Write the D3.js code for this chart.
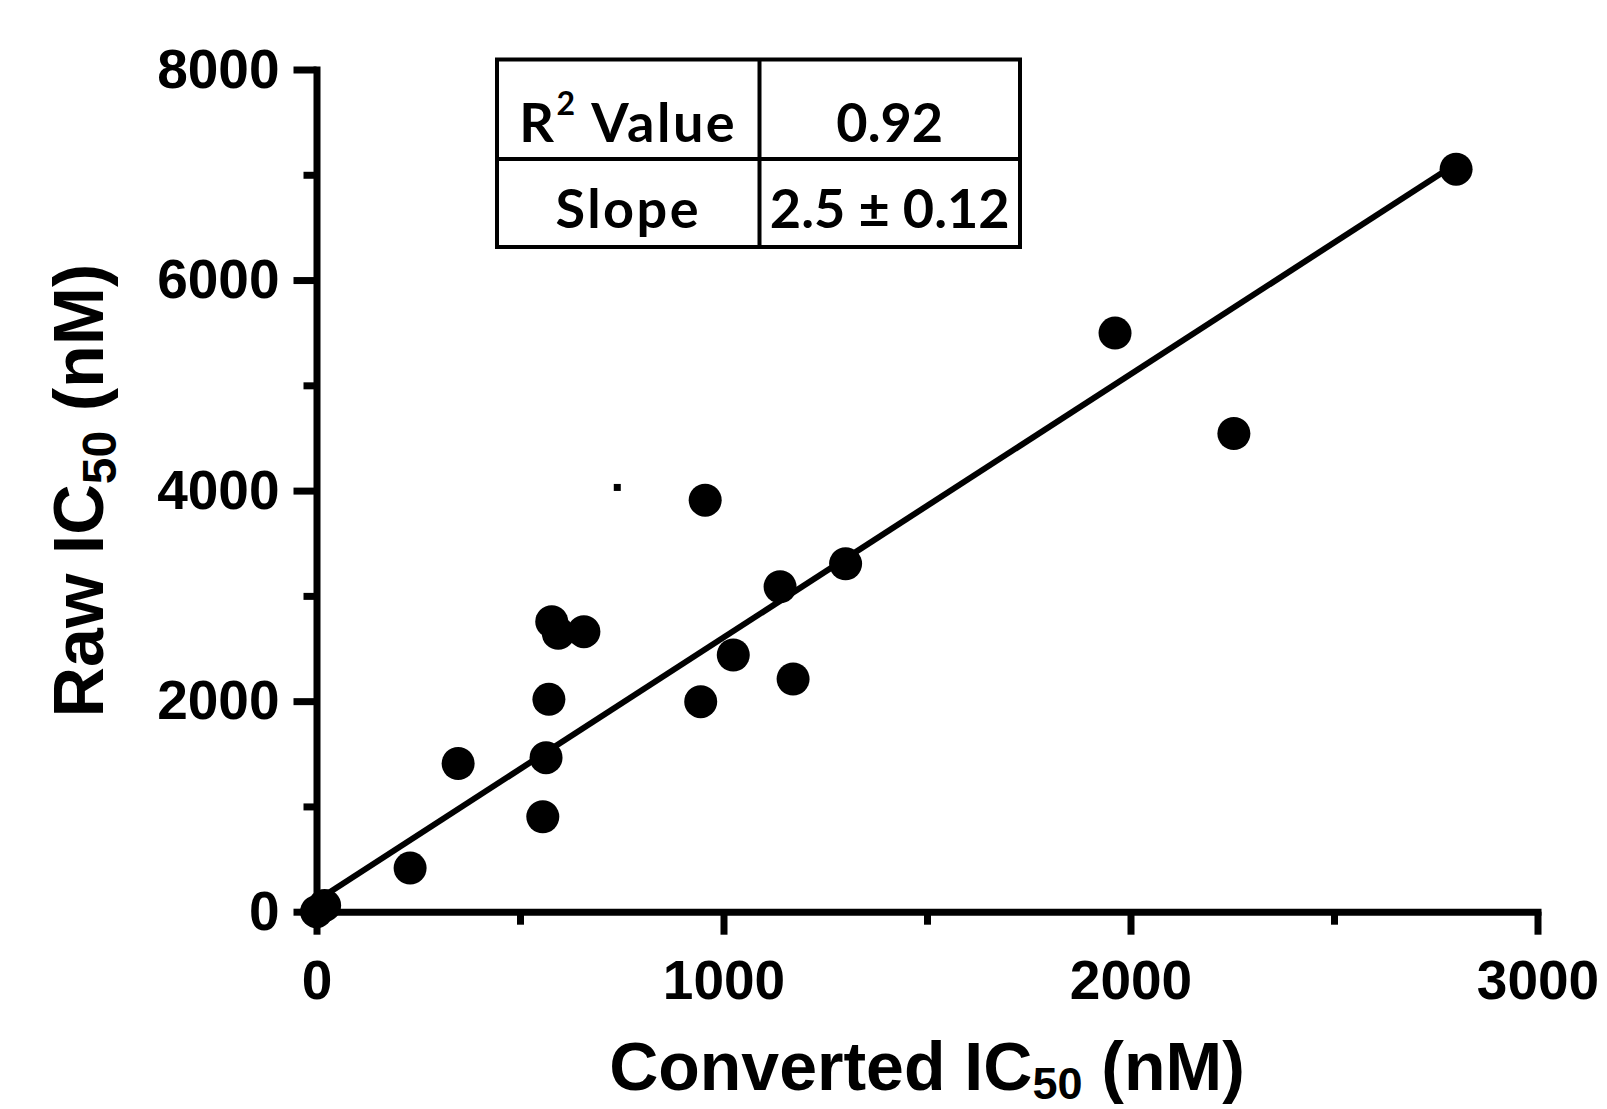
<!DOCTYPE html>
<html>
<head>
<meta charset="utf-8">
<script src="https://cdnjs.cloudflare.com/ajax/libs/d3/7.8.5/d3.min.js"></script>
<style>
body { margin: 0; background: #fff; }
.axis path, .axis line { stroke: #000; stroke-width: 7; }
.axis path { stroke-linecap: square; }
.axis text { font-family: "Liberation Sans", Arial, sans-serif; font-weight: bold; font-size: 55px; fill: #000; }
.title { font-family: "Liberation Sans", Arial, sans-serif; font-weight: bold; font-size: 68px; fill: #000; }
.cell text { font-family: Lato, "Open Sans", sans-serif; font-weight: bold; font-size: 54px; fill: #000; }
.cell text.label { letter-spacing: 2.5px; }
</style>
</head>
<body>
<div class="graph"></div>
<script>
// data
var converted = [0, 20, 230, 348, 556, 564, 571, 578, 594, 657, 944, 955, 1024, 1139, 1171, 1300, 1962, 2254, 2800];
var raw       = [0, 60, 414, 1408, 902, 1463, 2017, 2755, 2644, 2660, 1995, 3909, 2438, 3087, 2210, 3305, 5496, 4542, 7053];
var strayX = [739], strayY = [4030];

// linear fit
var fitSlope = 2.5, fitIntercept = 105, fitRange = [0, 2800];

var xTicks = [0, 1000, 2000, 3000], xMinor = [500, 1500, 2500];
var yTicks = [0, 2000, 4000, 6000, 8000], yMinor = [1000, 3000, 5000, 7000];

// table contents: [label, superscript, rest] and value
var tableLabels = [["R", "2", " Value"], ["Slope", "", ""]];
var tableValues = ["0.92", "2.5 \u00b1 0.12"];

// set the dimensions and margins of the graph
var margin = {top: 69.5, right: 69.5, bottom: 197.3, left: 316.5},
    width = 1607 - margin.left - margin.right,
    height = 1109 - margin.top - margin.bottom;

var x = d3.scaleLinear().domain([0, 3000]).range([0, width]);
var y = d3.scaleLinear().domain([0, 8000]).range([height, 0]);

var root = d3.select(".graph").append("svg")
    .attr("width", 1607)
    .attr("height", 1109);

var svg = root.append("g")
    .attr("transform", "translate(" + margin.left + "," + margin.top + ")");

// fit line
var fitLine = d3.line()
    .x(function(d) { return x(d); })
    .y(function(d) { return y(fitSlope * d + fitIntercept); });

svg.append("path")
    .datum(fitRange)
    .attr("d", fitLine)
    .style("fill", "none")
    .style("stroke", "#000")
    .style("stroke-width", 6);

// points
svg.selectAll("circle.pt")
    .data(converted)
  .enter().append("circle")
    .attr("class", "pt")
    .attr("r", 16.5)
    .attr("cx", function(d) { return x(d); })
    .attr("cy", function(d, i) { return y(raw[i]); })
    .style("fill", "#000");

svg.selectAll("rect.stray")
    .data(strayX)
  .enter().append("rect")
    .attr("class", "stray")
    .attr("x", function(d) { return x(d) - 3.5; })
    .attr("y", function(d, i) { return y(strayY[i]) - 3.5; })
    .attr("width", 7)
    .attr("height", 7)
    .style("fill", "#000");

// X axis
svg.append("g")
    .attr("class", "axis")
    .attr("transform", "translate(0," + height + ")")
    .call(d3.axisBottom(x).tickValues(xTicks).tickSize(23).tickSizeOuter(0)
      .tickPadding(25).tickFormat(d3.format("d")));

svg.append("g")
    .attr("class", "axis")
    .attr("transform", "translate(0," + height + ")")
    .call(d3.axisBottom(x).tickValues(xMinor).tickSize(13).tickFormat(""))
    .select(".domain").remove();

// Y axis
svg.append("g")
    .attr("class", "axis")
    .call(d3.axisLeft(y).tickValues(yTicks).tickSize(23).tickSizeOuter(0)
      .tickPadding(14).tickFormat(d3.format("d")));

svg.append("g")
    .attr("class", "axis")
    .call(d3.axisLeft(y).tickValues(yMinor).tickSize(13).tickFormat(""))
    .select(".domain").remove();

// axis titles
var xt = root.append("text")
    .attr("class", "title")
    .attr("x", margin.left + width / 2)
    .attr("y", 1090)
    .attr("text-anchor", "middle");
xt.append("tspan").text("Converted IC");
xt.append("tspan").attr("dy", 9).style("font-size", "45px").text("50");
xt.append("tspan").attr("dy", -9).text(" (nM)");

var yt = root.append("text")
    .attr("class", "title")
    .style("font-size", "70px")
    .attr("transform", "translate(103," + (margin.top + height / 2) + ") rotate(-90)")
    .attr("text-anchor", "middle");
yt.append("tspan").text("Raw IC");
yt.append("tspan").attr("dy", 13).style("font-size", "48px").text("50");
yt.append("tspan").attr("dy", -13).text(" (nM)");

// stats table
var tbl = {left: 497, top: 59.5, split: 759.5, right: 1020, rows: [59.5, 159, 247]};
var cell = root.append("g").attr("class", "cell");

cell.append("rect")
    .attr("x", tbl.left)
    .attr("y", tbl.top)
    .attr("width", tbl.right - tbl.left)
    .attr("height", tbl.rows[2] - tbl.rows[0])
    .style("fill", "none")
    .style("stroke", "#000")
    .style("stroke-width", 4);

cell.append("line")
    .attr("x1", tbl.split).attr("x2", tbl.split)
    .attr("y1", tbl.rows[0]).attr("y2", tbl.rows[2])
    .style("stroke", "#000").style("stroke-width", 4);

cell.append("line")
    .attr("x1", tbl.left).attr("x2", tbl.right)
    .attr("y1", tbl.rows[1]).attr("y2", tbl.rows[1])
    .style("stroke", "#000").style("stroke-width", 4);

var baselines = [141.5, 227.5];

tableLabels.forEach(function(l, i) {
  var t = cell.append("text")
      .attr("class", "label")
      .attr("x", (tbl.left + tbl.split) / 2)
      .attr("y", baselines[i])
      .attr("text-anchor", "middle");
  t.append("tspan").text(l[0]);
  if (l[1]) {
    t.append("tspan").attr("dy", -27).style("font-size", "32px").text(l[1]);
    t.append("tspan").attr("dy", 27).text(l[2]);
  }
  cell.append("text")
      .attr("x", (tbl.split + tbl.right) / 2)
      .attr("y", baselines[i])
      .attr("text-anchor", "middle")
      .text(tableValues[i]);
});
</script>
</body>
</html>
